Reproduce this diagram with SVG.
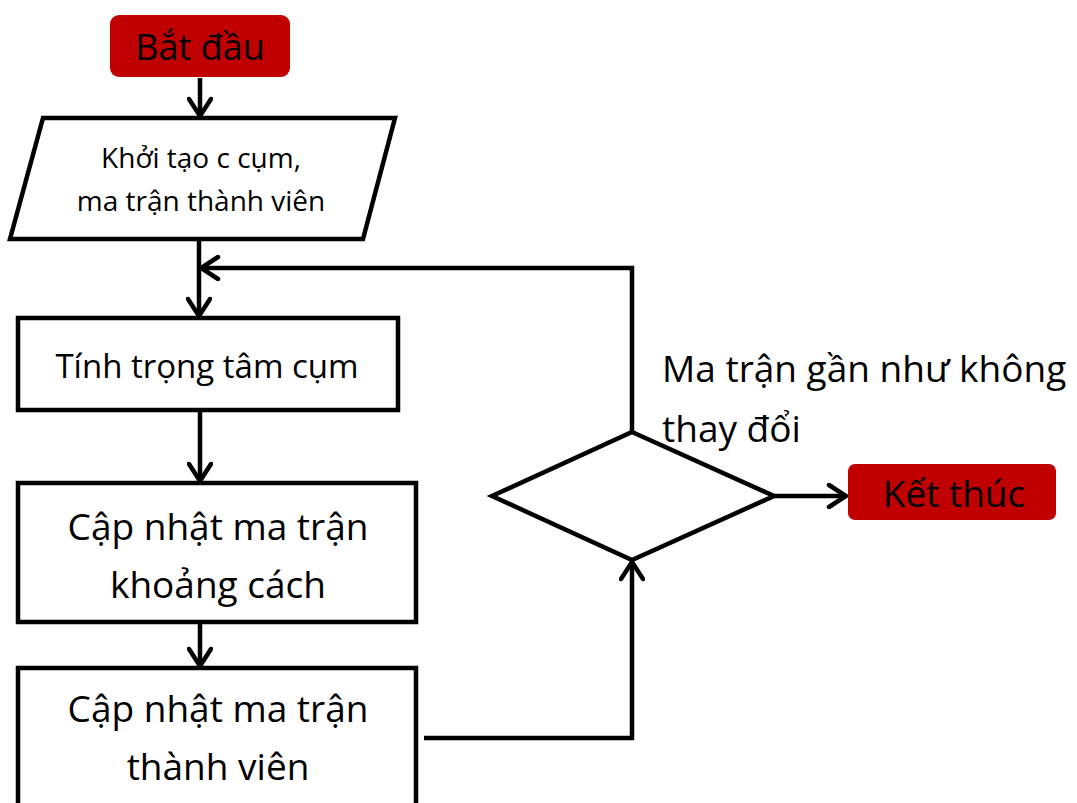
<svg xmlns="http://www.w3.org/2000/svg" width="1077" height="803" viewBox="0 0 1077 803">
<defs>
<marker id="arr" markerUnits="userSpaceOnUse" markerWidth="24" markerHeight="26" viewBox="0 0 24 26" refX="20" refY="13" orient="auto">
<path d="M3,2 L20,13 L3,24" fill="none" stroke="#000" stroke-width="4.5" stroke-linecap="round" stroke-linejoin="miter"/>
</marker>
<style>
.box{fill:#fff;stroke:#000;stroke-width:4.5}
.term{fill:#C00000;stroke:none}
.t{font-family:"Open Sans",Lato,"Noto Sans",sans-serif;fill:#000;text-anchor:middle}
.c{fill:none;stroke:#000;stroke-width:4.5}
</style>
</defs>
<rect width="1077" height="803" fill="#fff"/>
<g id="connectors">
<path class="c" d="M200,78 V116" marker-end="url(#arr)"/>
<path class="c" d="M199,239 V316" marker-end="url(#arr)"/>
<path class="c" d="M632,432 V268 H201" marker-end="url(#arr)"/>
<path class="c" d="M200,410 V481" marker-end="url(#arr)"/>
<path class="c" d="M200,622 V666" marker-end="url(#arr)"/>
<path class="c" d="M424,738 H632 V562" marker-end="url(#arr)"/>
<path class="c" d="M774,496 H846" marker-end="url(#arr)"/>
</g>
<g id="start">
<rect class="term" x="110" y="15" width="180" height="62" rx="9"/>
<text class="t" x="200" y="60" font-size="36">Bắt đầu</text>
</g>
<g id="init">
<polygon class="box" points="43,118 395,118 363,239 10,239"/>
<text class="t" x="201" y="168" font-size="28">Khởi tạo c cụm,</text>
<text class="t" x="201" y="211" font-size="28">ma trận thành viên</text>
</g>
<g id="centroid">
<rect class="box" x="18" y="318" width="380" height="92"/>
<text class="t" x="207" y="378" font-size="33">Tính trọng tâm cụm</text>
</g>
<g id="distance">
<rect class="box" x="18" y="483" width="398" height="139"/>
<text class="t" x="218" y="540" font-size="37">Cập nhật ma trận</text>
<text class="t" x="218" y="598" font-size="37">khoảng cách</text>
</g>
<g id="membership">
<rect class="box" x="18" y="668" width="398" height="150"/>
<text class="t" x="218" y="722" font-size="37">Cập nhật ma trận</text>
<text class="t" x="218" y="780" font-size="37">thành viên</text>
</g>
<g id="decision">
<polygon class="box" points="632,432 774,496 632,560 492,496"/>
<text class="t" x="662" y="382" font-size="37" style="text-anchor:start">Ma trận gần như không</text>
<text class="t" x="662" y="442" font-size="37" style="text-anchor:start">thay đổi</text>
</g>
<g id="end">
<rect class="term" x="848" y="464" width="208" height="56" rx="7"/>
<text class="t" x="954" y="507" font-size="37">Kết thúc</text>
</g>
</svg>
